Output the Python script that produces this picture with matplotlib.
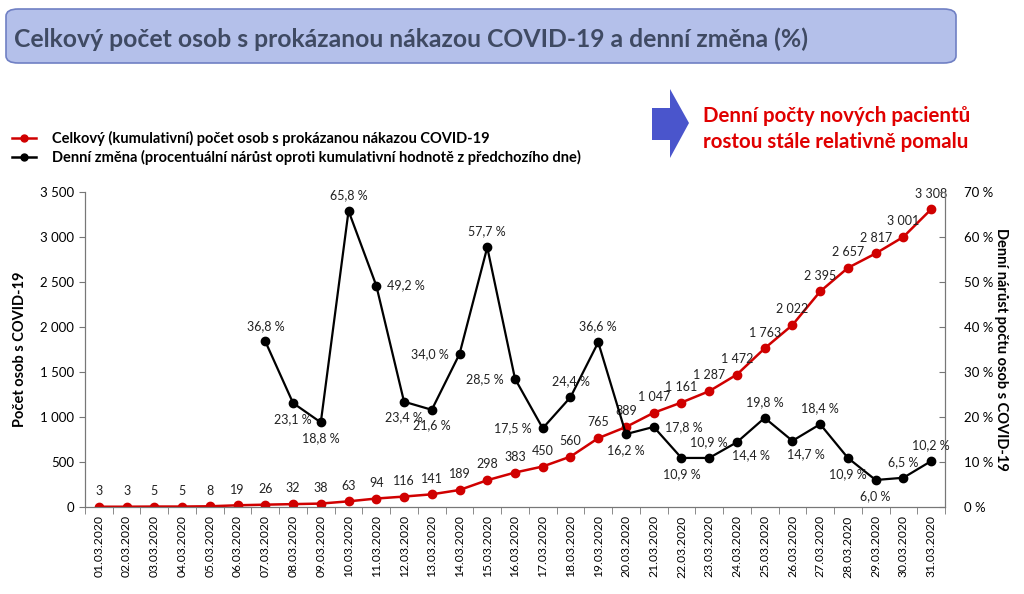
import matplotlib.pyplot as plt
from matplotlib.patches import FancyBboxPatch, Polygon
from matplotlib.lines import Line2D
from matplotlib.ticker import FuncFormatter, MultipleLocator
import numpy as np

plt.rcParams['font.family'] = ['Lato', 'DejaVu Sans']

# Data
datumy = [f"{d:02d}.03.2020" for d in range(1, 32)]
kumulativni = [3, 3, 5, 5, 8, 19, 26, 32, 38, 63, 94, 116, 141, 189, 298, 383,
               450, 560, 765, 889, 1047, 1161, 1287, 1472, 1763, 2022, 2395,
               2657, 2817, 3001, 3308]
# denni zmena od 07.03.2020
denni_zmena = [36.8, 23.1, 18.8, 65.8, 49.2, 23.4, 21.6, 34.0, 57.7, 28.5,
               17.5, 24.4, 36.6, 16.2, 17.8, 10.9, 10.9, 14.4, 19.8, 14.7,
               18.4, 10.9, 6.0, 6.5, 10.2]
start_zmena = 6

# pozice popisku (a = nad, b = pod, l = vlevo, r = vpravo)
pozice = ['a', 'b', 'b', 'a', 'r', 'b', 'b', 'l', 'a', 'l',
          'l', 'a', 'a', 'b', 'r', 'b', 'a', 'br', 'a', 'br',
          'a', 'b', 'b', 'a', 'a']

cervena = '#D00000'
fmt_cz = lambda v: f"{v:,.0f}".replace(",", " ")
fmt_pct = lambda v: f"{v:.1f}".replace(".", ",") + " %"

fig = plt.figure(figsize=(10.24, 5.94), dpi=100)
sx = lambda x: x / 1024
sy = lambda y: 1 - y / 594

# Titulek v ramecku
box = FancyBboxPatch((sx(6), sy(63)), 950 / 1024, 54 / 594,
                     boxstyle="round,pad=0,rounding_size=0.012",
                     transform=fig.transFigure, facecolor='#B4C0EA',
                     edgecolor='#7080C4', linewidth=1.2)
fig.patches.append(box)
fig.text(sx(14), sy(39),
         "Celkový počet osob s prokázanou nákazou COVID-19 a denní změna (%)",
         fontsize=17.8, fontweight='bold', color='#3F4A63', va='center')

# Sipka
sipka = Polygon([(sx(652), sy(108)), (sx(670), sy(108)), (sx(670), sy(89)),
                 (sx(689), sy(123)), (sx(670), sy(158)), (sx(670), sy(140)),
                 (sx(652), sy(140))], closed=True, transform=fig.transFigure,
                facecolor='#4A55CC', edgecolor='none')
fig.patches.append(sipka)
fig.text(sx(703), sy(116), "Denní počty nových pacientů", color='#E00000',
         fontsize=14.8, fontweight='bold', va='center')
fig.text(sx(703), sy(142), "rostou stále relativně pomalu", color='#E00000',
         fontsize=14.8, fontweight='bold', va='center')

# Legenda
for yy, barva in ((138, cervena), (157, 'black')):
    fig.lines.append(Line2D([sx(12), sx(24), sx(36)], [sy(yy)] * 3,
                            color=barva, marker='o', markersize=5,
                            markevery=[1], lw=1.8, transform=fig.transFigure))
fig.text(sx(52), sy(138),
         "Celkový (kumulativní) počet osob s prokázanou nákazou COVID-19",
         fontsize=10.5, fontweight='bold', va='center')
fig.text(sx(52), sy(157),
         "Denní změna (procentuální nárůst oproti kumulativní hodnotě z předchozího dne)",
         fontsize=10.5, fontweight='bold', va='center')

# Grafy
ax = fig.add_axes([sx(85), sy(507), 860 / 1024, 315 / 594])
ax2 = ax.twinx()
x = np.arange(len(datumy))
x2 = x[start_zmena:]

ax.plot(x, kumulativni, color=cervena, lw=1.8, marker='o', markersize=6,
        zorder=3)
for xi, v in zip(x, kumulativni):
    ax.annotate(fmt_cz(v), (xi, v), xytext=(0, 7), textcoords='offset points',
                ha='center', va='bottom', fontsize=9, color='#222222')

ax2.plot(x2, denni_zmena, color='black', lw=1.6, marker='o', markersize=6,
         zorder=3)
posuny = {'a': ((0, 7), 'center', 'bottom'), 'b': ((0, -7), 'center', 'top'),
          'l': ((-8, 0), 'right', 'center'), 'r': ((8, 0), 'left', 'center'),
          'br': ((10, -5), 'center', 'top')}
for xi, v, p in zip(x2, denni_zmena, pozice):
    off, ha, va = posuny[p]
    ax2.annotate(fmt_pct(v), (xi, v), xytext=off, textcoords='offset points',
                 ha=ha, va=va, fontsize=9, color='#222222')

ax.set_xlim(-0.5, len(datumy) - 0.5)
ax.set_ylim(0, 3500)
ax2.set_ylim(0, 70)
ax.yaxis.set_major_locator(MultipleLocator(500))
ax2.yaxis.set_major_locator(MultipleLocator(10))
ax.yaxis.set_major_formatter(FuncFormatter(lambda v, p: fmt_cz(v)))
ax2.yaxis.set_major_formatter(FuncFormatter(lambda v, p: f"{v:.0f} %"))

ax.set_xticks(x)
ax.set_xticklabels(datumy, rotation=90, fontsize=8.7)
ax.tick_params(axis='x', length=0, pad=6)
ax.set_xticks(np.arange(-0.5, len(datumy)), minor=True)
ax.tick_params(axis='x', which='minor', length=5, color='#777777')
ax.tick_params(axis='y', labelsize=9.5, length=4, color='#777777', pad=4)
ax2.tick_params(axis='y', labelsize=9.5, length=4, color='#777777',
                direction='in', pad=14)

for a in (ax, ax2):
    a.spines['top'].set_visible(False)
    for s in ('left', 'right', 'bottom'):
        a.spines[s].set_color('#777777')

ax.set_ylabel("Počet osob s COVID-19", fontsize=10.5, fontweight='bold',
              labelpad=9)
ax2.set_ylabel("Denní nárůst počtu osob s COVID-19", fontsize=10.5,
               fontweight='bold', rotation=-90, labelpad=10)

fig.savefig("out.png", dpi=100)
